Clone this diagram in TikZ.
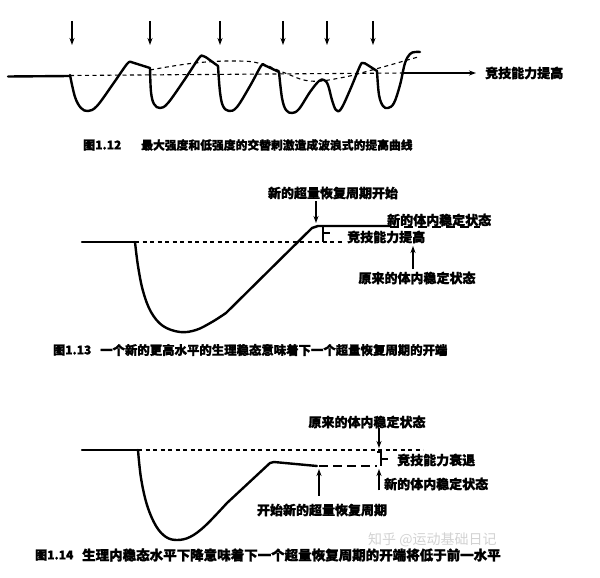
\documentclass[tikz,border=0pt]{standalone}
\usepackage{fontspec}
\newfontfamily\cjk{Noto Sans CJK SC}[BoldFeatures={FakeBold=1.5}]
\usetikzlibrary{arrows.meta}
\tikzset{
  curve/.style={line width=2.4pt, line join=round, line cap=round},
  level/.style={line width=1.1pt, dash pattern=on 4pt off 3.5pt},
  newlevel/.style={line width=1.3pt, dash pattern=on 9pt off 5pt},
  pointer/.style={line width=1.3pt, -{Stealth[length=7pt,width=5pt]}},
  lbl/.style={font=\cjk\bfseries\fontsize{13}{13}\selectfont, inner sep=0pt},
  capt/.style={inner sep=0pt, anchor=west},
}
\begin{document}
\begin{tikzpicture}[x=1pt,y=-1pt]
  \useasboundingbox (0,0) rectangle (600,578);
  % Fig 1.12
  \foreach \ax in {72,150,220,283,327,373} \draw[pointer] (\ax,21) -- (\ax,45);
  \draw[curve] (8,76.5) -- (70,76);
  \draw[level] (70,75.5) -- (403,73);
  \node[lbl, anchor=west] (gain1) at (485,73) {竞技能力提高};
  \coordinate (axis1) at (403,73);
  \draw[pointer, line width=1.4pt, shorten >=9pt] (axis1) -- (gain1.west);
  \draw[curve]
    plot[smooth, tension=0.6] coordinates {(70,75) (75,97) (81,108) (88,111) (97,106) (113,84) (127,64) (131,62)}
    -- (150,68)
    -- plot[smooth, tension=0.6] coordinates {(150,68) (151,92) (154,104) (160,108) (168,103) (185,79) (199,58) (203,56) (207,58)}
    -- (218,66)
    -- plot[smooth, tension=0.6] coordinates {(218,66) (220,92) (223,106) (229,111) (237,107) (250,86) (261,66) (264,65)}
    -- (279,72)
    -- plot[smooth, tension=0.6] coordinates {(279,72) (282,98) (286,110) (292,113) (299,109) (310,92) (319,81) (324,80) (328,85) (332,100) (336,110) (341,109) (350,90) (360,66) (363,63) (366,64)}
    -- (377,71)
    -- plot[smooth, tension=0.6] coordinates {(377,71) (379,95) (383,106) (388,108) (394,103) (400,85) (405,63) (410,54) (415,52) (420,52)};
  \draw[level] plot[smooth, tension=0.7] coordinates {(150,70) (195,63) (238,61) (262,64) (285,73) (310,81) (340,78) (372,70) (418,57)};
  \node[capt, font=\cjk\bfseries\fontsize{12}{12}\selectfont] (c12no) at (83,145) {图1.12};
  \node[capt, font=\cjk\bfseries\fontsize{11.8}{12}\selectfont] (c12) at (141,145) {最大强度和低强度的交替刺激造成波浪式的提高曲线};
  % Fig 1.13
  \draw[curve] (82,242) -- (135,242);
  \draw[level] (135,242) -- (343,242);
  \draw[curve] plot[smooth, tension=0.6] coordinates {(135,242) (138,266) (143,291) (151,312) (163,326) (180,332) (196,330) (212,322) (226,313)}
    -- (312,228) -- (318,226) -- (390,226);
  \draw[newlevel] (390,227) -- (480,227);
  \draw[line width=1.2pt] (323,227) -- (323,242) (323,233) -- (330,233);
  \node[lbl, anchor=west] (gain2) at (347,237) {竞技能力提高};
  \node[lbl] (newcycle2) at (333,193) {新的超量恢复周期开始};
  \coordinate (peak2) at (316,223);
  \draw[pointer, shorten <=2pt] (newcycle2.south -| peak2) -- (peak2);
  \node[lbl, anchor=west] (newstate2) at (387,220) {新的体内稳定状态};
  \node[lbl] (oldstate2) at (417,278) {原来的体内稳定状态};
  \coordinate (old2) at (413,246);
  \draw[pointer, shorten <=3pt] (oldstate2.north -| old2) -- (old2);
  \node[capt, font=\cjk\bfseries\fontsize{12}{12}\selectfont] (c13no) at (53,350) {图1.13};
  \node[capt, font=\cjk\bfseries\fontsize{12.4}{12}\selectfont] (c13) at (100,350) {一个新的更高水平的生理稳态意味着下一个超量恢复周期的开端};
  % Fig 1.14
  \draw[curve] (82,450) -- (138,450);
  \draw[level] (138,450) -- (423,450);
  \draw[curve] plot[smooth, tension=0.6] coordinates {(138,450) (141,478) (147,505) (156,526) (166,537) (177,540) (190,537) (205,526) (227,503)}
    -- (270,463) -- (274,462) -- (317,466);
  \draw[newlevel] (319,466) -- (377,466);
  \draw[line width=1.2pt] (377,452) -- (381,452) -- (381,466) (381,459) -- (388,459);
  \node[lbl] (oldstate3) at (367,422) {原来的体内稳定状态};
  \coordinate (old3) at (379,448);
  \draw[pointer] (oldstate3.south -| old3) -- (old3);
  \node[lbl, anchor=west] (loss3) at (397,460) {竞技能力衰退};
  \node[lbl, anchor=west] (newstate3) at (384,484) {新的体内稳定状态};
  \coordinate (new3) at (379,469);
  \draw[pointer] (newstate3.south -| new3) -- (new3);
  \node[lbl] (restart3) at (322,510) {开始新的超量恢复周期};
  \coordinate (start3) at (319,469);
  \draw[pointer, shorten <=8pt] (restart3.north -| start3) -- (start3);
  \node[capt, text=gray!35, font=\cjk\fontsize{14}{14}\selectfont] (mark) at (368,540) {知乎 @运动基础日记};
  \node[capt, font=\cjk\bfseries\fontsize{12}{12}\selectfont] (c14no) at (35,555) {图1.14};
  \node[capt, font=\cjk\bfseries\fontsize{13.5}{12}\selectfont] (c14) at (82,555) {生理内稳态水平下降意味着下一个超量恢复周期的开端将低于前一水平};
\end{tikzpicture}
\end{document}
